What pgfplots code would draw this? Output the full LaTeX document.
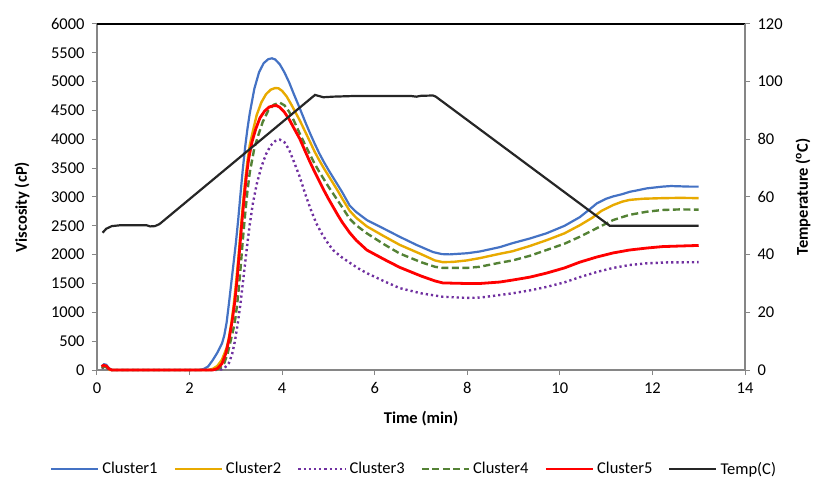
\documentclass[border=0pt]{standalone}
\usepackage{fontspec}
\setmainfont{Carlito}
\usepackage{pgfplots}
\pgfplotsset{compat=1.18}
\definecolor{axisgray}{HTML}{868686}
\definecolor{cone}{HTML}{4472C4}
\definecolor{ctwo}{HTML}{E8AA00}
\definecolor{cthree}{HTML}{7030A0}
\definecolor{cfour}{HTML}{548235}
\definecolor{cfive}{HTML}{FF0000}
\definecolor{ctemp}{HTML}{262626}
\pgfplotsset{
  sone/.style={color=cone, line width=2.2bp},
  stwo/.style={color=ctwo, line width=2.4bp},
  sthree/.style={color=cthree, line width=2.4bp, dash pattern=on 2.2bp off 3bp},
  sfour/.style={color=cfour, line width=2.4bp, dash pattern=on 7bp off 3.5bp},
  sfive/.style={color=cfive, line width=2.8bp},
  stemp/.style={color=ctemp, line width=2.2bp},
  common/.style={
    width=648bp, height=346bp, scale only axis,
    at={(0,0)}, anchor=south west,
    xmin=0, xmax=14, clip=false,
    axis line style={draw=axisgray, line width=1.1bp},
    tick style={draw=axisgray, line width=1bp},
    tick align=outside, major tick length=5bp,
    every tick label/.append style={font=\fontsize{16.5bp}{19bp}\selectfont, text=black},
    /pgf/number format/.cd, 1000 sep={}, assume math mode=true,
  },
}
\begin{document}
\begin{tikzpicture}
\useasboundingbox (-97bp,-107bp) rectangle (717bp,370bp);
\begin{axis}[common,
  ymin=0, ymax=6000,
  xtick={0,2,...,14}, ytick={0,500,...,6000},
  axis x line*=bottom, axis y line*=left,
  xlabel={Time (min)}, ylabel={Viscosity (cP)},
  every axis x label/.style={at={([yshift=-49bp]axis description cs:0.5,0)}, anchor=center, font=\fontsize{16.5bp}{19bp}\selectfont\bfseries},
  every axis y label/.style={at={([xshift=-75bp]axis description cs:0,0.471)}, anchor=center, rotate=90, font=\fontsize{16.5bp}{19bp}\selectfont\bfseries},
  xticklabel style={anchor=north, yshift=-4bp},
  yticklabel style={anchor=east, xshift=-4bp},
]
\draw[black, line width=1.3bp] (rel axis cs:0,1) -- (rel axis cs:1,1);
\addplot[sone] coordinates {(0.10,60)(0.15,100)(0.20,90)(0.26,30)(0.32,0)(2.20,0)(2.30,15)(2.40,60)(2.50,170)(2.60,300)(2.70,460)(2.75,600)(2.80,820)(2.85,1150)(2.90,1500)(2.95,1850)(3.00,2200)(3.05,2600)(3.10,3050)(3.15,3480)(3.20,3860)(3.25,4180)(3.30,4450)(3.40,4880)(3.50,5160)(3.60,5320)(3.70,5390)(3.78,5405)(3.85,5385)(3.95,5300)(4.05,5160)(4.15,4990)(4.25,4790)(4.38,4540)(4.50,4300)(4.60,4110)(4.70,3930)(4.80,3760)(4.90,3610)(5.00,3470)(5.10,3340)(5.20,3210)(5.30,3080)(5.46,2850)(5.60,2740)(5.83,2600)(6.20,2450)(6.54,2310)(6.90,2170)(7.26,2045)(7.45,2010)(7.62,2005)(8.00,2025)(8.27,2055)(8.70,2130)(8.98,2200)(9.35,2280)(9.71,2370)(10.10,2500)(10.43,2650)(10.65,2790)(10.80,2890)(11.00,2970)(11.15,3010)(11.35,3050)(11.51,3090)(11.70,3120)(11.88,3150)(12.05,3165)(12.22,3180)(12.40,3190)(12.60,3185)(12.80,3180)(13.00,3180)};
\addplot[stwo] coordinates {(0.10,40)(0.18,60)(0.28,0)(2.40,0)(2.50,20)(2.60,70)(2.70,180)(2.80,380)(2.85,560)(2.90,800)(2.95,1100)(3.00,1480)(3.05,1900)(3.10,2380)(3.15,2850)(3.20,3270)(3.25,3620)(3.30,3900)(3.37,4150)(3.45,4420)(3.55,4640)(3.65,4780)(3.75,4860)(3.85,4890)(3.92,4885)(4.00,4840)(4.10,4740)(4.20,4600)(4.30,4450)(4.38,4330)(4.50,4130)(4.60,3960)(4.70,3790)(4.80,3640)(4.90,3500)(5.00,3370)(5.10,3240)(5.20,3110)(5.30,2970)(5.46,2760)(5.60,2640)(5.83,2490)(6.20,2320)(6.54,2170)(7.00,2010)(7.30,1900)(7.47,1870)(7.70,1875)(7.99,1900)(8.27,1940)(8.70,2015)(8.98,2060)(9.35,2150)(9.71,2250)(10.10,2370)(10.43,2510)(10.70,2640)(10.90,2760)(11.15,2860)(11.35,2920)(11.51,2950)(11.80,2970)(12.22,2980)(12.60,2985)(13.00,2980)};
\addplot[sthree] coordinates {(0.10,30)(0.18,50)(0.28,0)(2.65,0)(2.75,30)(2.85,120)(2.92,280)(2.98,500)(3.04,800)(3.10,1150)(3.15,1500)(3.20,1850)(3.25,2200)(3.30,2520)(3.37,2900)(3.45,3220)(3.55,3520)(3.65,3740)(3.75,3890)(3.85,3970)(3.95,3995)(4.05,3950)(4.15,3820)(4.25,3620)(4.38,3350)(4.50,3050)(4.62,2780)(4.74,2540)(4.86,2360)(4.98,2210)(5.10,2080)(5.28,1960)(5.46,1860)(5.65,1760)(5.83,1680)(6.20,1540)(6.54,1420)(7.00,1330)(7.47,1270)(7.99,1250)(8.27,1255)(8.70,1300)(8.98,1330)(9.35,1380)(9.71,1440)(10.10,1520)(10.43,1610)(10.80,1700)(11.15,1770)(11.50,1820)(11.88,1850)(12.30,1865)(13.00,1870)};
\addplot[sfour] coordinates {(0.10,40)(0.18,60)(0.28,0)(2.55,0)(2.65,30)(2.75,120)(2.82,280)(2.88,480)(2.95,720)(3.00,950)(3.05,1300)(3.10,1750)(3.15,2250)(3.20,2700)(3.25,3100)(3.30,3420)(3.40,3850)(3.48,4060)(3.58,4300)(3.70,4500)(3.82,4600)(3.95,4635)(4.05,4590)(4.15,4480)(4.25,4330)(4.38,4100)(4.50,3900)(4.60,3740)(4.70,3580)(4.80,3440)(4.90,3310)(5.00,3180)(5.10,3060)(5.20,2940)(5.30,2820)(5.46,2620)(5.60,2510)(5.83,2370)(6.20,2180)(6.54,2020)(7.00,1870)(7.30,1790)(7.47,1770)(7.99,1770)(8.27,1790)(8.70,1860)(8.98,1900)(9.35,1980)(9.71,2080)(10.10,2190)(10.43,2310)(10.80,2460)(11.15,2600)(11.50,2690)(11.88,2745)(12.22,2775)(12.60,2785)(13.00,2780)};
\addplot[sfive] coordinates {(0.10,60)(0.14,80)(0.20,70)(0.26,20)(0.32,0)(2.50,0)(2.60,25)(2.70,110)(2.78,280)(2.85,520)(2.92,850)(2.98,1200)(3.03,1600)(3.08,2080)(3.13,2560)(3.18,3000)(3.23,3380)(3.28,3680)(3.35,3960)(3.43,4180)(3.52,4370)(3.62,4490)(3.72,4560)(3.80,4580)(3.88,4585)(3.95,4555)(4.05,4470)(4.15,4350)(4.25,4200)(4.38,4010)(4.50,3790)(4.60,3610)(4.70,3440)(4.80,3280)(4.90,3120)(5.00,2970)(5.10,2830)(5.20,2690)(5.30,2560)(5.46,2380)(5.60,2250)(5.83,2080)(6.20,1920)(6.54,1780)(7.00,1630)(7.30,1545)(7.47,1510)(7.99,1500)(8.27,1500)(8.70,1525)(8.98,1560)(9.35,1610)(9.71,1680)(10.10,1770)(10.43,1870)(10.80,1960)(11.15,2030)(11.50,2080)(11.88,2115)(12.22,2140)(12.60,2150)(13.00,2160)};
\end{axis}
\begin{axis}[common,
  ymin=0, ymax=120, ytick={0,20,...,120},
  axis x line=none, axis y line*=right,
  ylabel={Temperature (\textsuperscript{o}C)},
  every axis y label/.style={at={([xshift=58bp]axis description cs:1,0.5)}, anchor=center, rotate=90, font=\fontsize{16.5bp}{19bp}\selectfont\bfseries},
  yticklabel style={anchor=west, xshift=4bp},
  legend style={at={(axis description cs:0,0)}, anchor=west, xshift=-47bp, yshift=-99bp,
    draw=none, fill=none, inner sep=0pt, legend columns=6,
    font=\fontsize{16.5bp}{19bp}\selectfont,
    nodes={inner xsep=3bp},
    /tikz/every even column/.append style={column sep=13bp}},
  legend image code/.code={\draw[#1] (0bp,0bp) -- (47bp,0bp);},
]
\addlegendimage{sone}\addlegendentry{Cluster1}
\addlegendimage{stwo}\addlegendentry{Cluster2}
\addlegendimage{sthree}\addlegendentry{Cluster3}
\addlegendimage{sfour}\addlegendentry{Cluster4}
\addlegendimage{sfive}\addlegendentry{Cluster5}
\addplot[stemp] coordinates {(0.12,47.6)(0.20,49.0)(0.32,49.9)(0.50,50.2)(1.07,50.2)(1.15,49.8)(1.25,49.9)(1.35,50.6)(4.71,95.4)(4.80,95.0)(4.89,94.6)(5.10,94.8)(5.50,95.0)(6.80,95.0)(6.90,94.8)(7.00,95.1)(7.26,95.2)(7.32,94.8)(11.08,50.0)(13.00,50.0)};
\addlegendentry{Temp(C)}
\end{axis}
\end{tikzpicture}
\end{document}
